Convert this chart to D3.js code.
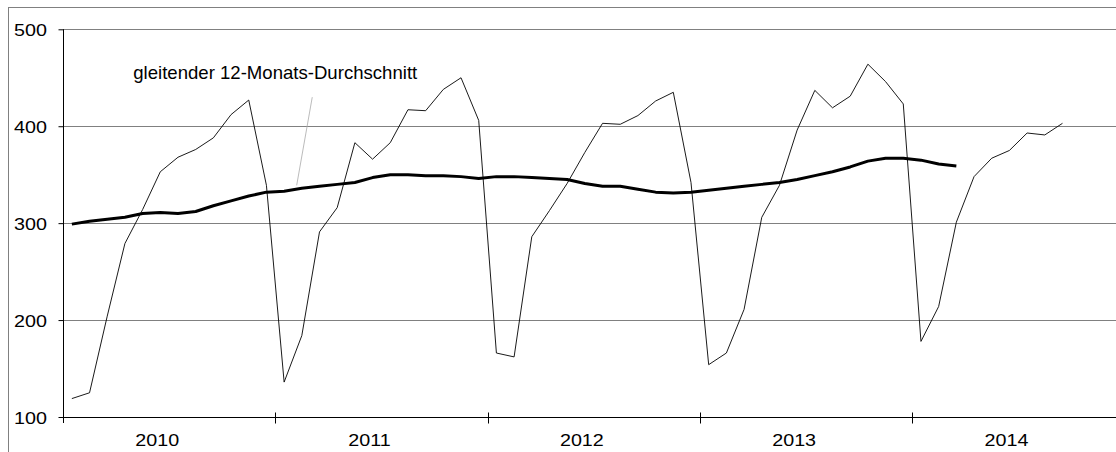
<!DOCTYPE html>
<html>
<head>
<meta charset="utf-8">
<script src="https://cdn.jsdelivr.net/npm/d3@7"></script>
<style>
  body { margin: 0; background: #fff; }
  svg { display: block; }
  text { font-family: "Liberation Sans", Arial, sans-serif; fill: #000; }
</style>
</head>
<body>
<script>
const width = 1116;
const height = 452;

// monthly values, Jan 2010 .. Sep 2014
const values = [
  119, 125, 204, 279, 314, 353, 368, 376, 388, 412, 427, 339,
  136, 184, 291, 316, 383, 366, 383, 417, 416, 438, 450, 406,
  166, 162, 286, 313, 341, 373, 403, 402, 411, 426, 435, 342,
  154, 166, 211, 306, 339, 396, 437, 419, 431, 464, 446, 423,
  178, 214, 301, 348, 367, 375, 393, 391, 403
];

// moving 12-month average, Jan 2010 .. Mar 2014
const movingAvg = [
  299, 302, 304, 306, 310, 311, 310, 312, 318, 323, 328, 332,
  333, 336, 338, 340, 342, 347, 350, 350, 349, 349, 348, 346,
  348, 348, 347, 346, 345, 341, 338, 338, 335, 332, 331, 332,
  334, 336, 338, 340, 342, 345, 349, 353, 358, 364, 367, 367,
  365, 361, 359
];

const years = ["2010", "2011", "2012", "2013", "2014"];
const yTicks = [100, 200, 300, 400, 500];
const labelText = "gleitender 12-Monats-Durchschnitt";

// month index / value of the label and its pointer line
const labelPos = [3.47, 449];
const pointer = [[13.59, 430], [12.71, 339]];

const monthW = 17.69;
const x0 = 63;
const nMonths = years.length * 12;

// month index -> centre of that month
const x = d3.scaleLinear().domain([-0.5, nMonths - 0.5]).range([x0, x0 + nMonths * monthW]);
const y = d3.scaleLinear().domain([100, 500]).range([417, 29.3]);

const svg = d3.select("body").append("svg")
  .attr("width", width)
  .attr("height", height);

// outer frame
svg.append("rect")
  .attr("x", 8.5).attr("y", 7.5)
  .attr("width", width + 20).attr("height", height + 20)
  .attr("fill", "none")
  .attr("stroke", "#808080")
  .attr("stroke-width", 1);

// gridlines
svg.append("g")
  .selectAll("line")
  .data(yTicks.slice(1))
  .join("line")
    .attr("x1", x0).attr("x2", width)
    .attr("y1", d => Math.round(y(d)) + 0.5)
    .attr("y2", d => Math.round(y(d)) + 0.5)
    .attr("stroke", "#808080")
    .attr("stroke-width", 1);

// y axis
const yAxis = svg.append("g")
  .attr("transform", `translate(${x0 + 0.5},0)`)
  .call(d3.axisLeft(y).tickValues(yTicks).tickSize(5).tickPadding(0).tickFormat(d3.format("d")));
yAxis.select(".domain").remove();
yAxis.selectAll(".tick line").attr("stroke", "#000");
yAxis.selectAll(".tick text").remove();
svg.append("line")
  .attr("x1", x0 + 0.5).attr("x2", x0 + 0.5)
  .attr("y1", y(500)).attr("y2", y(100) + 6)
  .attr("stroke", "#000");

svg.append("g")
  .selectAll("text")
  .data(yTicks)
  .join("text")
    .attr("transform", d => `translate(47,${y(d) + 7}) scale(1.16,1)`)
    .attr("text-anchor", "end")
    .attr("font-size", 17)
    .text(d => d);

// x axis
const baseY = Math.round(y(100)) + 0.5;
svg.append("line")
  .attr("x1", x0).attr("x2", width)
  .attr("y1", baseY).attr("y2", baseY)
  .attr("stroke", "#000");

svg.append("g")
  .selectAll("line")
  .data(d3.range(1, years.length))
  .join("line")
    .attr("x1", d => Math.round(x(d * 12 - 0.5)) + 0.5)
    .attr("x2", d => Math.round(x(d * 12 - 0.5)) + 0.5)
    .attr("y1", baseY - 5).attr("y2", baseY + 6)
    .attr("stroke", "#000");

svg.append("g")
  .selectAll("text")
  .data(years)
  .join("text")
    .attr("transform", (d, i) => `translate(${x(i * 12 + 5) - 3},446) scale(1.16,1)`)
    .attr("text-anchor", "middle")
    .attr("font-size", 17)
    .text(d => d);

// series
const line = d3.line().x((d, i) => x(i)).y(d => y(d));

svg.append("path")
  .datum(values)
  .attr("d", line)
  .attr("fill", "none")
  .attr("stroke", "#000")
  .attr("stroke-width", 0.9);

svg.append("path")
  .datum(movingAvg)
  .attr("d", line)
  .attr("fill", "none")
  .attr("stroke", "#000")
  .attr("stroke-width", 3)
  .attr("stroke-linejoin", "round");

// label with pointer
svg.append("line")
  .attr("x1", x(pointer[0][0])).attr("y1", y(pointer[0][1]))
  .attr("x2", x(pointer[1][0])).attr("y2", y(pointer[1][1]))
  .attr("stroke", "#aaa")
  .attr("stroke-width", 0.8);

svg.append("text")
  .attr("x", x(labelPos[0]))
  .attr("y", y(labelPos[1]))
  .attr("font-size", 19)
  .attr("textLength", 284)
  .attr("lengthAdjust", "spacingAndGlyphs")
  .text(labelText);
</script>
</body>
</html>
